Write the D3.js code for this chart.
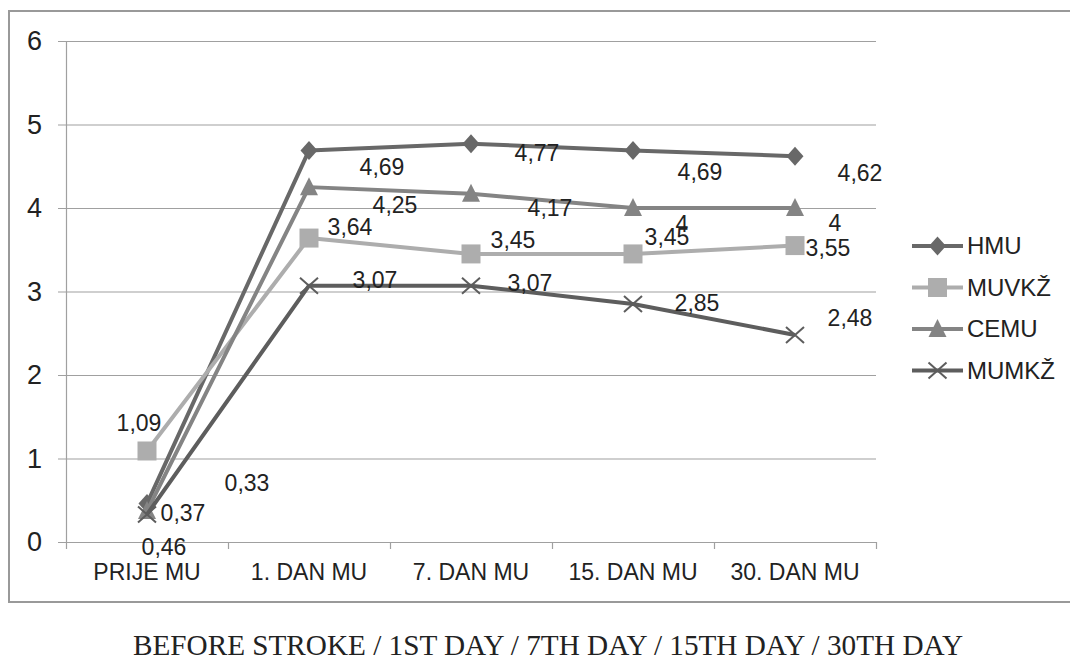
<!DOCTYPE html>
<style>
body { margin: 0; background: #fff; }
.axis .domain { display: none; }
</style>
<svg width="1070" height="661"></svg>
<script src="https://d3js.org/d3.v7.min.js"></script>
<script>

var categories = ["PRIJE MU", "1. DAN MU", "7. DAN MU", "15. DAN MU", "30. DAN MU"];
var seriesNames = ["HMU", "MUVKŽ", "CEMU", "MUMKŽ"];
var hmu   = [0.46, 4.69, 4.77, 4.69, 4.62];
var muvkz = [1.09, 3.64, 3.45, 3.45, 3.55];
var cemu  = [0.37, 4.25, 4.17, 4, 4];
var mumkz = [0.33, 3.07, 3.07, 2.85, 2.48];
var yTicks = [0, 1, 2, 3, 4, 5, 6];
var caption = "BEFORE STROKE / 1ST DAY / 7TH DAY / 15TH DAY / 30TH DAY";

// label nudges (px), excel-ish placement
var labelNudge = [
  [[17, 43], [73, 17], [66, 9], [67, 22], [65, 17]],
  [[-8, -28], [41, -11], [42, -14], [34, -17], [33, 2]],
  [[36, 2], [86, 18], [79, 14], [49, 16], [40, 15]],
  [[100, -31], [66, -6], [59, -3], [64, -1], [55, -17]]
];

var colors = ["#686868", "#adadad", "#848484", "#5d5d5d"];
var shapes = ["diamond", "square", "triangle", "x"];
var allValues = [hmu, muvkz, cemu, mumkz];

var svg = d3.select("svg");
var font = "'Liberation Sans', Arial, sans-serif";

// outer frame
svg.append("rect")
    .attr("x", 9).attr("y", 11)
    .attr("width", 1080).attr("height", 591)
    .attr("fill", "none")
    .attr("stroke", "#999")
    .attr("stroke-width", 2);

var pLeft = 66, pRight = 876, pTop = 41, pBottom = 542;

var x = d3.scaleBand().domain(categories).range([pLeft, pRight]).padding(0);
var y = d3.scaleLinear().domain([0, 6]).range([pBottom, pTop]);

function cx(i) { return x(categories[i]) + x.bandwidth() / 2; }

// gridlines
svg.append("g")
  .selectAll("line")
  .data(yTicks)
  .enter().append("line")
    .attr("x1", pLeft - 8).attr("x2", pRight)
    .attr("y1", function(d) { return y(d) + 0.5; })
    .attr("y2", function(d) { return y(d) + 0.5; })
    .attr("stroke", "#a0a0a0")
    .attr("stroke-width", 1.2);

// left axis line
svg.append("line")
    .attr("x1", pLeft + 0.5).attr("x2", pLeft + 0.5)
    .attr("y1", pTop).attr("y2", pBottom + 7)
    .attr("stroke", "#a0a0a0").attr("stroke-width", 1.2);

// bottom ticks at category boundaries
var bounds = categories.map(function(c) { return x(c); }).concat([pRight]);
svg.append("g")
  .selectAll("line")
  .data(bounds.slice(1))
  .enter().append("line")
    .attr("x1", function(d) { return d + 0.5; })
    .attr("x2", function(d) { return d + 0.5; })
    .attr("y1", pBottom).attr("y2", pBottom + 7)
    .attr("stroke", "#a0a0a0").attr("stroke-width", 1.2);

// y labels
svg.append("g")
    .attr("class", "axis")
    .attr("transform", "translate(" + pLeft + ",0)")
    .call(d3.axisLeft(y).tickValues(yTicks).tickFormat(d3.format("d")).tickSize(0).tickPadding(24))
    .call(function(g) {
      g.selectAll("text")
        .attr("font-family", font)
        .attr("font-size", 27)
        .attr("fill", "#222");
    });

// x labels
svg.append("g")
    .attr("class", "axis")
    .attr("transform", "translate(0," + pBottom + ")")
    .call(d3.axisBottom(x).tickSize(0).tickPadding(22))
    .call(function(g) {
      g.selectAll("text")
        .attr("font-family", font)
        .attr("font-size", 23)
        .attr("fill", "#222");
    });

function markerPath(shape) {
  if (shape === "diamond") return "M0,-9.5L8.5,0L0,9.5L-8.5,0Z";
  if (shape === "square") return "M-9.5,-9.5H9.5V9.5H-9.5Z";
  if (shape === "triangle") return "M0,-10L9,8H-9Z";
  return "M-9,-8L9,8M-9,8L9,-8";
}

function drawMarker(g, shape, color) {
  var p = g.append("path").attr("d", markerPath(shape));
  if (shape === "x") p.attr("fill", "none").attr("stroke", color).attr("stroke-width", 2);
  else p.attr("fill", color);
}

var line = d3.line()
    .x(function(d, i) { return cx(i); })
    .y(function(d) { return y(d); });

allValues.forEach(function(vals, s) {
  svg.append("path")
      .datum(vals)
      .attr("d", line)
      .attr("fill", "none")
      .attr("stroke", colors[s])
      .attr("stroke-width", 4)
      .attr("stroke-linejoin", "round");

  vals.forEach(function(v, i) {
    var g = svg.append("g").attr("transform", "translate(" + cx(i) + "," + y(v) + ")");
    drawMarker(g, shapes[s], colors[s]);
  });
});

// data labels
allValues.forEach(function(vals, s) {
  svg.append("g")
    .selectAll("text")
    .data(vals)
    .enter().append("text")
      .attr("x", function(d, i) { return cx(i) + labelNudge[s][i][0]; })
      .attr("y", function(d, i) { return y(d) + labelNudge[s][i][1]; })
      .attr("dy", "0.35em")
      .attr("text-anchor", "middle")
      .attr("font-family", font)
      .attr("font-size", 23)
      .attr("fill", "#222")
      .text(function(d) { return String(d).replace(".", ","); });
});

// legend
var legend = svg.append("g")
  .selectAll("g")
  .data(seriesNames)
  .enter().append("g")
    .attr("transform", function(d, i) { return "translate(912," + (246 + i * 41.5) + ")"; });

legend.append("line")
    .attr("x1", 0).attr("x2", 51)
    .attr("stroke", function(d, i) { return colors[i]; })
    .attr("stroke-width", 4);

legend.each(function(d, i) {
  var g = d3.select(this).append("g").attr("transform", "translate(25.5,0)");
  drawMarker(g, shapes[i], colors[i]);
});

legend.append("text")
    .attr("x", 55)
    .attr("dy", "0.35em")
    .attr("font-family", font)
    .attr("font-size", 24)
    .attr("fill", "#222")
    .text(function(d) { return d; });

// caption
svg.append("text")
    .attr("x", 548)
    .attr("y", 655)
    .attr("text-anchor", "middle")
    .attr("font-family", "'Liberation Serif', 'Times New Roman', serif")
    .attr("font-size", 30)
    .attr("textLength", 830)
    .attr("lengthAdjust", "spacingAndGlyphs")
    .attr("fill", "#222")
    .text(caption);

</script>
